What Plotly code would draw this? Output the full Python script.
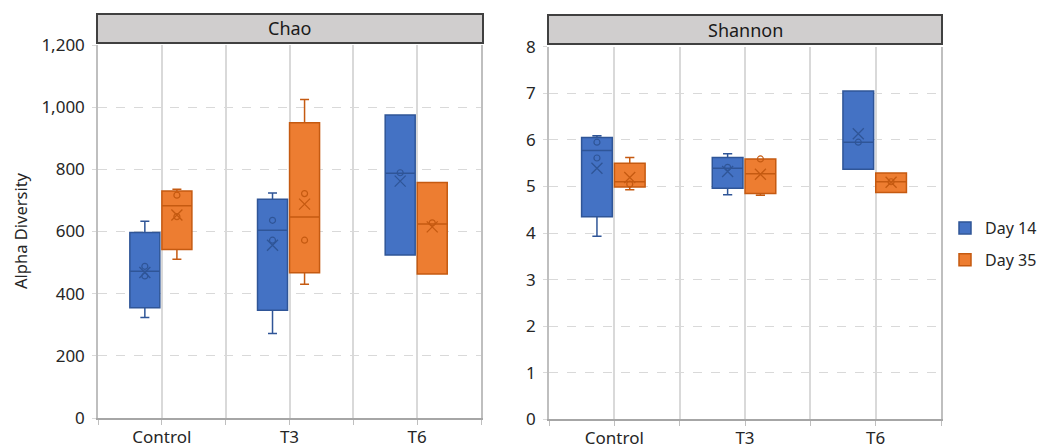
import plotly.graph_objects as go

# ---- data -------------------------------------------------------------
categories = ["Control", "T3", "T6"]
series_names = ["Day 14", "Day 35"]

# Chao richness: five-number summaries, means and inner points per group
chao_d14_low = [323, 272, 524]
chao_d14_q1 = [355, 347, 524]
chao_d14_median = [472, 604, 787]
chao_d14_q3 = [597, 704, 975]
chao_d14_high = [633, 724, 975]
chao_d14_mean = [468, 556, 762]
chao_d14_points = [[488, 457], [636, 572], [789]]

chao_d35_low = [511, 430, 463]
chao_d35_q1 = [542, 467, 463]
chao_d35_median = [683, 647, 624]
chao_d35_q3 = [730, 950, 758]
chao_d35_high = [736, 1025, 758]
chao_d35_mean = [653, 688, 615]
chao_d35_points = [[717, 648], [722, 572], [628]]

# Shannon index
shan_d14_low = [3.93, 4.82, 5.37]
shan_d14_q1 = [4.35, 4.96, 5.37]
shan_d14_median = [5.77, 5.39, 5.95]
shan_d14_q3 = [6.05, 5.62, 7.05]
shan_d14_high = [6.09, 5.70, 7.05]
shan_d14_mean = [5.39, 5.32, 6.13]
shan_d14_points = [[5.95, 5.61], [5.41], [5.95]]

shan_d35_low = [4.93, 4.81, 4.87]
shan_d35_q1 = [4.99, 4.85, 4.87]
shan_d35_median = [5.10, 5.27, 5.10]
shan_d35_q3 = [5.50, 5.59, 5.29]
shan_d35_high = [5.62, 5.59, 5.29]
shan_d35_mean = [5.19, 5.26, 5.09]
shan_d35_points = [[5.05], [5.59], [5.10]]

# ---- styling ------------------------------------------------------------
FONT = "Noto Sans, Open Sans, sans-serif"
FILL = {"Day 14": "#4472C4", "Day 35": "#ED7D31"}
EDGE = {"Day 14": "#2F5597", "Day 35": "#C55A11"}
OFFSET = {"Day 14": -0.133, "Day 35": 0.118}
BOX_W = 0.235
GRID = "#d9d9d9"
W, H = 1041, 448

fig = go.Figure()


def add_series(name, low, q1, med, q3, high, mean, points, xa, ya, legend):
    pos = [i + OFFSET[name] for i in range(len(categories))]
    fig.add_trace(go.Box(
        x=pos, lowerfence=low, q1=q1, median=med, q3=q3, upperfence=high,
        width=BOX_W, whiskerwidth=0.3, boxpoints=False,
        fillcolor=FILL[name], line=dict(color=EDGE[name], width=1.5),
        name=name, legendgroup=name, showlegend=legend,
        xaxis=xa, yaxis=ya, hoverinfo="y",
    ))
    fig.add_trace(go.Scatter(
        x=pos, y=mean, mode="markers", xaxis=xa, yaxis=ya,
        marker=dict(symbol="x-thin", size=11, color=EDGE[name],
                    line=dict(color=EDGE[name], width=1.3)),
        showlegend=False, legendgroup=name, hoverinfo="y",
    ))
    px, py = [], []
    for p, vals in zip(pos, points):
        for v in vals:
            px.append(p)
            py.append(v)
    fig.add_trace(go.Scatter(
        x=px, y=py, mode="markers", xaxis=xa, yaxis=ya,
        marker=dict(symbol="circle-open", size=6, color=EDGE[name],
                    line=dict(color=EDGE[name], width=1.2)),
        showlegend=False, legendgroup=name, hoverinfo="y",
    ))


add_series("Day 14", chao_d14_low, chao_d14_q1, chao_d14_median, chao_d14_q3,
           chao_d14_high, chao_d14_mean, chao_d14_points, "x", "y", True)
add_series("Day 35", chao_d35_low, chao_d35_q1, chao_d35_median, chao_d35_q3,
           chao_d35_high, chao_d35_mean, chao_d35_points, "x", "y", True)
add_series("Day 14", shan_d14_low, shan_d14_q1, shan_d14_median, shan_d14_q3,
           shan_d14_high, shan_d14_mean, shan_d14_points, "x2", "y2", False)
add_series("Day 35", shan_d35_low, shan_d35_q1, shan_d35_median, shan_d35_q3,
           shan_d35_high, shan_d35_mean, shan_d35_points, "x2", "y2", False)


def xaxis(domain, anchor):
    return dict(
        domain=domain, anchor=anchor, range=[-0.5, len(categories) - 0.5],
        tickvals=list(range(len(categories))), ticktext=categories,
        showgrid=True, gridcolor=GRID, gridwidth=1.5, zeroline=False,
        showline=True, linecolor="#a6a6a6", linewidth=1.5,
        ticks="", ticklabelstandoff=3, automargin=False,
        minor=dict(tick0=-0.5, dtick=0.5, showgrid=True, gridcolor=GRID,
                   gridwidth=1.5, ticks="outside", ticklen=5,
                   tickcolor="#bfbfbf"),
        tickfont=dict(family=FONT, size=17, color="#262626"),
        fixedrange=True,
    )


def yaxis(domain, anchor, rng, dtick, fmt):
    return dict(
        domain=domain, anchor=anchor, range=rng, dtick=dtick, tickformat=fmt,
        showgrid=True, gridcolor=GRID, griddash="dash", gridwidth=1,
        zeroline=False, showline=True, linecolor="#bfbfbf", linewidth=1.5,
        mirror=True, ticks="outside", ticklen=4, tickcolor=GRID,
        ticklabelstandoff=4, automargin=False,
        tickfont=dict(family=FONT, size=17, color="#262626"),
        fixedrange=True,
    )


def px_x(v):
    return v / W


def px_y(v):
    return (H - v) / H


fig.update_layout(
    width=W, height=H,
    margin=dict(l=0, r=0, t=0, b=0, autoexpand=False),
    paper_bgcolor="white", plot_bgcolor="white",
    boxmode="overlay",
    font=dict(family=FONT, color="#262626"),
    xaxis=xaxis([px_x(98), px_x(481)], "y"),
    yaxis=yaxis([px_y(418), px_y(45)], "x", [0, 1200], 200, ","),
    xaxis2=xaxis([px_x(549), px_x(941)], "y2"),
    yaxis2=yaxis([px_y(419.3), px_y(46.7)], "x2", [0, 8], 1, ""),
    legend=dict(
        x=px_x(945), y=px_y(211), xanchor="left", yanchor="top",
        traceorder="grouped", tracegroupgap=8,
        font=dict(family=FONT, size=16, color="#262626"),
        bgcolor="rgba(0,0,0,0)",
    ),
    showlegend=True,
)

# panel header strips
for label, x0, x1, y0, y1 in [("Chao", 97, 483, 14, 43),
                              ("Shannon", 548, 942, 15, 44)]:
    fig.add_shape(type="rect", xref="paper", yref="paper",
                  x0=px_x(x0), x1=px_x(x1), y0=px_y(y1), y1=px_y(y0),
                  fillcolor="#d0cece", line=dict(color="#404040", width=2))
    fig.add_annotation(text=label, xref="paper", yref="paper",
                       x=px_x((x0 + x1) / 2), y=px_y((y0 + y1) / 2),
                       showarrow=False, xanchor="center", yanchor="middle",
                       font=dict(family=FONT, size=18, color="#1a1a1a"))

fig.add_annotation(text="Alpha Diversity", xref="paper", yref="paper",
                   x=px_x(20), y=px_y(231), textangle=-90, showarrow=False,
                   xanchor="center", yanchor="middle",
                   font=dict(family=FONT, size=16.5, color="#262626"))

fig.write_html("out.html")
